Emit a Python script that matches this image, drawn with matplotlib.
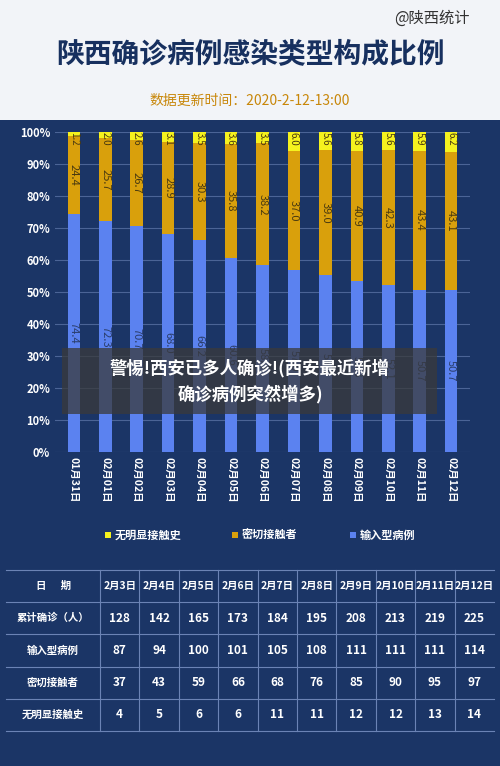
import numpy as np
import matplotlib.pyplot as plt
from matplotlib.patches import Rectangle

plt.rcParams['font.family'] = ['Noto Sans CJK SC', 'DejaVu Sans']

# ---------------- данные ----------------
dates = ['01月31日', '02月01日', '02月02日', '02月03日', '02月04日', '02月05日', '02月06日',
         '02月07日', '02月08日', '02月09日', '02月10日', '02月11日', '02月12日']
no_contact = [1.2, 2.0, 2.6, 3.1, 3.5, 3.6, 3.5, 6.0, 5.6, 5.8, 5.6, 5.9, 6.2]
close_contact = [24.4, 25.7, 26.7, 28.9, 30.3, 35.8, 38.2, 37.0, 39.0, 40.9, 42.3, 43.4, 43.1]
imported = [74.4, 72.3, 70.7, 68.0, 66.2, 60.6, 58.3, 57.0, 55.4, 53.3, 52.1, 50.7, 50.7]

tbl_dates = ['2月3日', '2月4日', '2月5日', '2月6日', '2月7日', '2月8日', '2月9日', '2月10日', '2月11日', '2月12日']
tbl_rows = ['累计确诊（人）', '输入型病例', '密切接触者', '无明显接触史']
tbl_total = [128, 142, 165, 173, 184, 195, 208, 213, 219, 225]
tbl_imported = [87, 94, 100, 101, 105, 108, 111, 111, 111, 114]
tbl_close = [37, 43, 59, 66, 68, 76, 85, 90, 95, 97]
tbl_none = [4, 5, 6, 6, 11, 11, 12, 12, 13, 14]

BG = '#1b3566'
C_IMP, C_CLOSE, C_NONE = '#5b82f0', '#d9a00c', '#f5f21e'

fig = plt.figure(figsize=(5, 7.66), dpi=100)
fig.patch.set_facecolor(BG)
W, H = 500, 766

def fx(px): return px / W
def fy(py): return 1 - py / H

# шапка
fig.patches.append(Rectangle((0, fy(120)), 1, 120 / H, transform=fig.transFigure,
                             facecolor='#f2f4f8', zorder=0))
fig.text(fx(250), fy(55), '陕西确诊病例感染类型构成比例', ha='center', va='center',
         fontsize=20, fontweight='bold', color='#17305f')
fig.text(fx(470), fy(18), '@陕西统计', ha='right', va='center', fontsize=11, color='#333333')
fig.text(fx(250), fy(101), '数据更新时间：2020-2-12-13:00', ha='center', va='center',
         fontsize=10, color='#c8870a')

# ---------------- график ----------------
ax = fig.add_axes([fx(55), fy(452), fx(470) - fx(55), (452 - 132) / H])
ax.set_facecolor(BG)
x = np.arange(len(dates))
w = 0.4
ax.bar(x, imported, w, color=C_IMP, zorder=2)
ax.bar(x, close_contact, w, bottom=imported, color=C_CLOSE, zorder=2)
bot2 = np.array(imported) + np.array(close_contact)
ax.bar(x, no_contact, w, bottom=bot2, color=C_NONE, zorder=2)
for i in range(len(x)):
    ax.text(x[i], imported[i] / 2, f'{imported[i]:.1f}', rotation=-90, ha='center', va='center',
            fontsize=8, color='#2a3d6a', zorder=3)
    ax.text(x[i], imported[i] + close_contact[i] / 2, f'{close_contact[i]:.1f}', rotation=-90,
            ha='center', va='center', fontsize=8, color='#4a3a10', zorder=3)
    ax.text(x[i], 100, f'{no_contact[i]:.1f}', rotation=-90, ha='center', va='top',
            fontsize=7, color='#4a3a10', zorder=3)
ax.set_ylim(0, 100)
ax.set_xlim(-0.6, len(x) - 0.4)
ax.set_yticks(range(0, 101, 10))
ax.set_yticklabels([f'{v}%' for v in range(0, 101, 10)], color='white', fontsize=8, fontweight='bold')
ax.set_xticks(x)
ax.set_xticklabels(dates, rotation=-90, color='white', fontsize=7.5, fontweight='bold')
ax.grid(axis='y', color='#4b6496', linewidth=0.8, zorder=0)
ax.tick_params(length=0)
for s in ax.spines.values():
    s.set_visible(False)

# легенда
for px, c, lab in [(105, C_NONE, '无明显接触史'), (232, C_CLOSE, '密切接触者'), (350, C_IMP, '输入型病例')]:
    fig.patches.append(Rectangle((fx(px), fy(538)), 6 / W, 6 / H, transform=fig.transFigure,
                                 facecolor=c))
    fig.text(fx(px + 10), fy(535), lab, ha='left', va='center', fontsize=8,
             fontweight='bold', color='white')

# ---------------- таблица ----------------
col_edges = [6] + list(np.linspace(100, 494, 11))
row_edges = [570, 602, 634, 667, 699, 731]
for ry in row_edges:
    fig.add_artist(plt.Line2D([fx(6), fx(494)], [fy(ry), fy(ry)], color='#6b83b5', linewidth=0.8))
for cx in col_edges[1:-1]:
    fig.add_artist(plt.Line2D([fx(cx), fx(cx)], [fy(570), fy(731)], color='#6b83b5', linewidth=0.8))

cells = [['日      期'] + tbl_dates]
for name, vals in zip(tbl_rows, [tbl_total, tbl_imported, tbl_close, tbl_none]):
    cells.append([name] + [str(v) for v in vals])
for r, row in enumerate(cells):
    cy = (row_edges[r] + row_edges[r + 1]) / 2
    for c, txt in enumerate(row):
        cx = (col_edges[c] + col_edges[c + 1]) / 2
        fs = 7.5 if (r == 0 and c > 0) or c == 0 else 8.5
        fig.text(fx(cx), fy(cy), txt, ha='center', va='center', fontsize=fs,
                 fontweight='bold', color='white')

# наложенный баннер
fig.patches.append(Rectangle((fx(62), fy(414)), 375 / W, 66 / H, transform=fig.transFigure,
                             facecolor='#3a3a3a', alpha=0.75, zorder=5))
fig.text(fx(250), fy(381), '警惕!西安已多人确诊!(西安最近新增\n确诊病例突然增多)', ha='center',
         va='center', fontsize=12.5, fontweight='bold', color='white', linespacing=1.5, zorder=6)

fig.savefig('out.png', dpi=100, facecolor=BG)
